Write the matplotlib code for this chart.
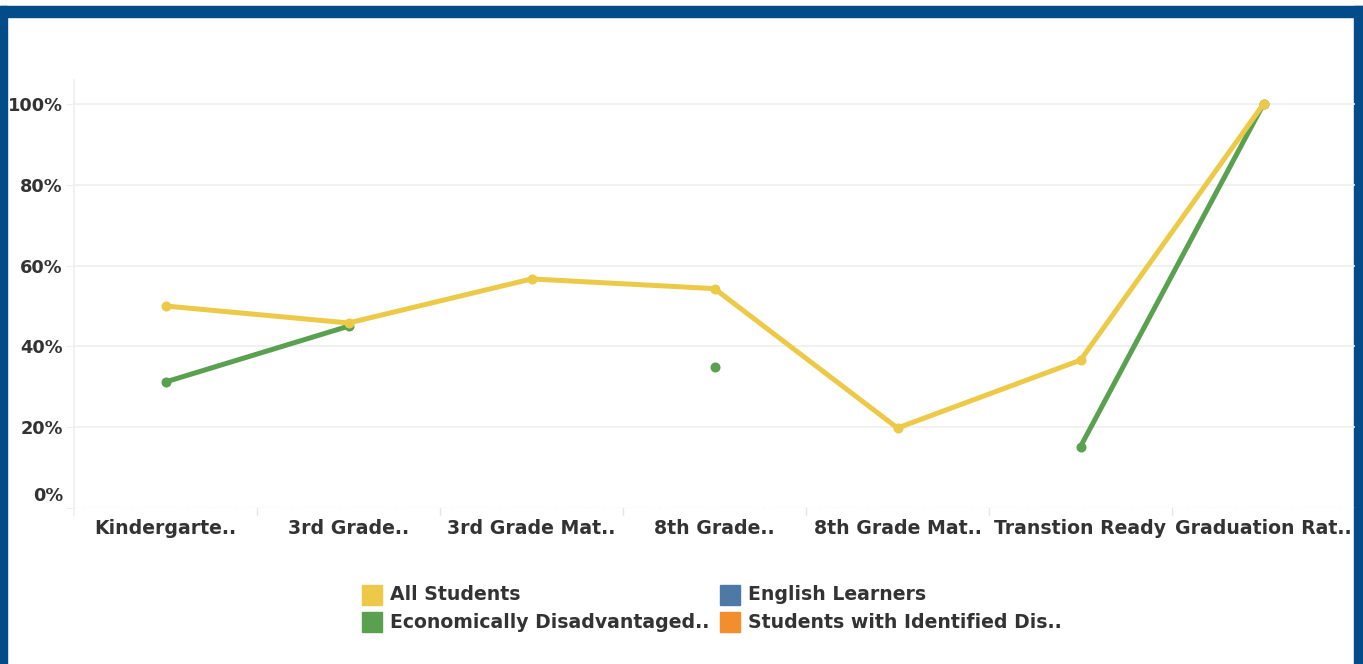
import numpy as np
import matplotlib
matplotlib.use("Agg")
import matplotlib.pyplot as plt
from matplotlib.patches import Rectangle
from matplotlib.transforms import ScaledTranslation

categories = ["Kindergarte..", "3rd Grade..", "3rd Grade Mat..", "8th Grade..",
              "8th Grade Mat..", "Transtion Ready", "Graduation Rat.."]
all_students = [50.0, 45.8, 56.7, 54.3, 19.8, 36.6, 100.0]
econ_disadv = [31.2, 45.0, np.nan, 35.0, np.nan, 15.2, 100.0]
english_learners = [np.nan] * 7
students_disab = [np.nan] * 7
yticks = [0, 20, 40, 60, 80, 100]
ytick_labels = ["0%", "20%", "40%", "60%", "80%", "100%"]
legend_labels = ["All Students", "English Learners",
                 "Economically Disadvantaged..", "Students with Identified Dis.."]

C_YEL = "#EDC948"
C_GRN = "#59A14F"
C_BLU = "#4E79A7"
C_ORG = "#F28E2B"
TXT = "#333333"
GRID = "#EFEFEF"
FONT = "DejaVu Sans"
FS = 13.6
FSY = 12.8

W, H = 1363, 664
fig = plt.figure(figsize=(W / 100, H / 100), dpi=100)
fig.patch.set_facecolor("white")

def fx(px):
    return px / W

def fy(py):
    return 1 - py / H

# border frame
border = "#034C8A"
fig.add_artist(Rectangle((fx(0), fy(17)), 1, fy(6) - fy(17), transform=fig.transFigure,
                         color=border, zorder=0))
fig.add_artist(Rectangle((fx(0), 0), fx(7), fy(6), transform=fig.transFigure,
                         color=border, zorder=0))
fig.add_artist(Rectangle((fx(1354), 0), fx(W - 1354), fy(6), transform=fig.transFigure,
                         color=border, zorder=0))

ax_l, ax_r, ax_t, ax_b = 74, 1355, 80, 508
ax = fig.add_axes([fx(ax_l), fy(ax_b), fx(ax_r - ax_l), fy(ax_t) - fy(ax_b)])
ax.set_facecolor("none")
x = np.arange(len(categories))
ax.set_xlim(-0.5, len(categories) - 0.5)
ax.set_ylim(0, (ax_b - ax_t) / 4.04)

for s in ax.spines.values():
    s.set_visible(False)

# gridlines
for yv in yticks[1:]:
    ax.axhline(yv, color=GRID, lw=1.2, zorder=1)
ax.axhline(0, color="#E6E6E6", lw=1, ls=(0, (3, 2)), zorder=1)
# left axis line
ax.plot([-0.5, -0.5], [-7 / 4.04, ax.get_ylim()[1]], color=GRID, lw=1.2,
        clip_on=False, zorder=1)
# category dividers
for b in np.arange(0.5, len(categories) - 0.5, 1.0):
    ax.plot([b, b], [0, -7 / 4.04], color="#E6E6E6", lw=1, clip_on=False)

LW, MS = 3.6, 6.2
ax.plot(x, econ_disadv, color=C_GRN, lw=LW, marker="o", ms=MS,
        solid_capstyle="round", zorder=3)
ax.plot(x, all_students, color=C_YEL, lw=LW, marker="o", ms=MS,
        solid_capstyle="round", zorder=4)
ax.plot(x, english_learners, color=C_BLU, lw=LW, marker="o", ms=MS, zorder=2)
ax.plot(x, students_disab, color=C_ORG, lw=LW, marker="o", ms=MS, zorder=2)

ax.set_yticks(yticks)
ax.set_yticklabels(ytick_labels)
ax.set_xticks(x)
ax.set_xticklabels(categories)
ax.tick_params(axis="y", length=6, color=GRID, pad=2, labelsize=FSY, labelcolor=TXT)
ax.tick_params(axis="x", length=0, pad=8, labelsize=FS, labelcolor=TXT)
for lab in ax.get_yticklabels() + ax.get_xticklabels():
    lab.set_fontweight("bold")
    lab.set_family(FONT)
# raise the 0% label like the reference
zl = ax.get_yticklabels()[0]
zl.set_transform(zl.get_transform() + ScaledTranslation(0, 14 / 100, fig.dpi_scale_trans))

# legend (manual, 2 columns)
leg_colors = [C_YEL, C_BLU, C_GRN, C_ORG]
col_x = [362, 720]
row_y = [595, 622]
for i, (lab, c) in enumerate(zip(legend_labels, leg_colors)):
    cx = col_x[i % 2]
    cy = row_y[i // 2]
    fig.add_artist(Rectangle((fx(cx), fy(cy + 10)), fx(20), fy(cy - 10) - fy(cy + 10),
                             transform=fig.transFigure, color=c))
    fig.text(fx(cx + 28), fy(cy), lab, ha="left", va="center", fontsize=FS,
             fontweight="bold", color=TXT, family=FONT)

fig.savefig("out.png", dpi=100, facecolor="white")
